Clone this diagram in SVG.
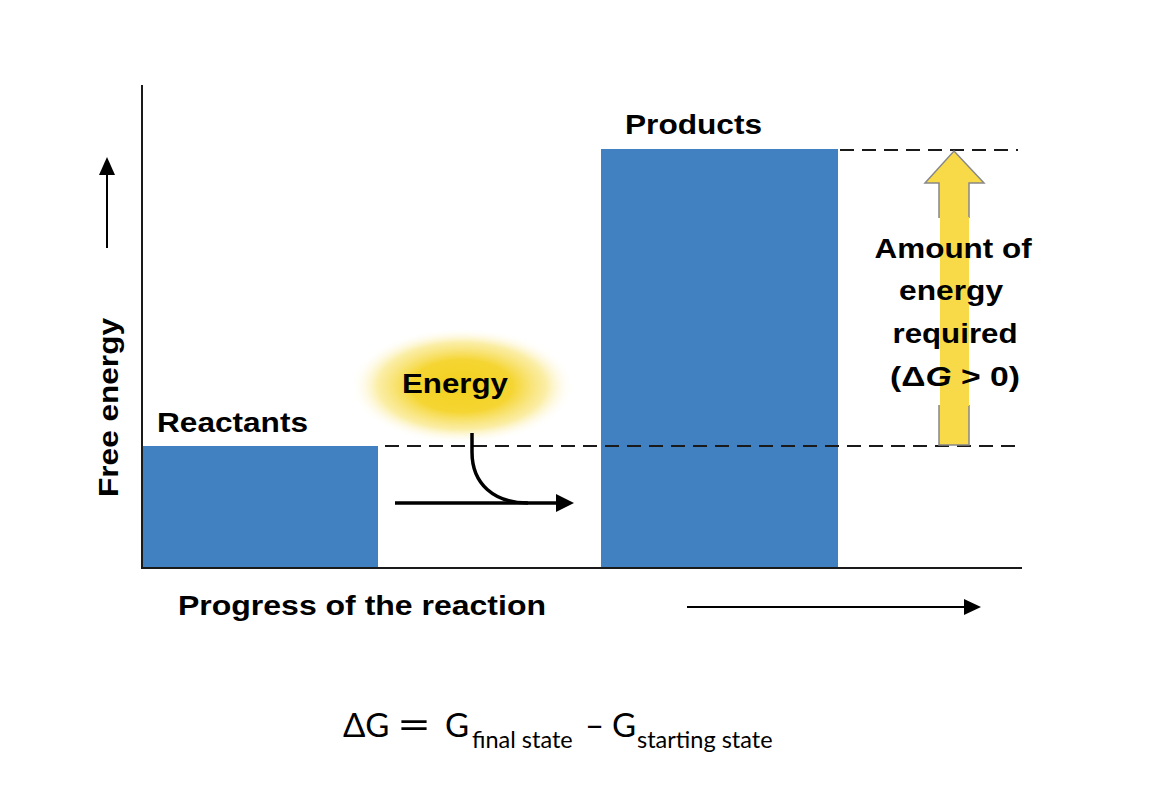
<svg xmlns="http://www.w3.org/2000/svg" width="1152" height="786" viewBox="0 0 1152 786">
<defs>
<radialGradient id="glow" cx="0.5" cy="0.5" r="0.5">
<stop offset="0" stop-color="#f3d01e"/>
<stop offset="0.45" stop-color="#f5d532"/>
<stop offset="0.75" stop-color="#f9e67f" stop-opacity="0.7"/>
<stop offset="1" stop-color="#ffffff" stop-opacity="0"/>
</radialGradient>
<style>
.lbl{font-family:"Liberation Sans",Arial,sans-serif;font-weight:bold;font-size:28px;fill:#000}
.eq{font-family:Lato,"Open Sans",sans-serif;fill:#000}
.bar{fill:#4281c1}
.axis{stroke:#1a1a1a;stroke-width:2;fill:none}
.dash{stroke:#1a1a1a;stroke-width:2;stroke-dasharray:14 8;fill:none}
</style>
</defs>
<rect width="1152" height="786" fill="#fff"/>

<g id="reactants">
<rect class="bar" x="143" y="446" width="235" height="122"/>
<text class="lbl" x="157" y="432" textLength="151" lengthAdjust="spacingAndGlyphs">Reactants</text>
</g>

<g id="products">
<rect class="bar" x="601" y="149" width="237" height="419"/>
<text class="lbl" x="625" y="134" textLength="137" lengthAdjust="spacingAndGlyphs">Products</text>
</g>

<g id="energy">
<ellipse cx="462" cy="386" rx="112" ry="58" fill="url(#glow)"/>
<text class="lbl" x="402" y="393" textLength="106" lengthAdjust="spacingAndGlyphs">Energy</text>
</g>

<g id="axes">
<line class="axis" x1="142" y1="85" x2="142" y2="569"/>
<line class="axis" x1="141" y1="568" x2="1022" y2="568"/>
<text class="lbl" transform="translate(118,497) rotate(-90)" textLength="179" lengthAdjust="spacingAndGlyphs">Free energy</text>
<text class="lbl" x="178" y="615" textLength="368" lengthAdjust="spacingAndGlyphs">Progress of the reaction</text>
</g>

<g id="connectors">
<line class="dash" x1="840" y1="150" x2="1018" y2="150"/>
<line class="dash" x1="385" y1="446" x2="1018" y2="446"/>
<path d="M107,248 V172" stroke="#000" stroke-width="2" fill="none"/>
<path d="M99,175 L107,157 L115,175 Z" fill="#000"/>
<path d="M687,607 H965" stroke="#000" stroke-width="2" fill="none"/>
<path d="M964,599 L981,607 L964,615 Z" fill="#000"/>
<path d="M395,503 H560" stroke="#000" stroke-width="3.5" fill="none"/>
<path d="M556,494 L574,503 L556,512 Z" fill="#000"/>
<path d="M472,433 V452 C472,484 494,503 528,503" stroke="#000" stroke-width="3.5" fill="none"/>
</g>

<g id="delta-g-arrow">
<polygon points="939,445 939,183 925,183 954,151 984,183 969,183 969,445" fill="#f8da49" stroke="#888" stroke-width="1.5"/>
<rect x="930" y="218" width="50" height="187" fill="#fff"/>
<rect x="940" y="217" width="29" height="189" fill="#f8da49"/>
<text class="lbl" text-anchor="middle">
<tspan x="957" y="258" textLength="157" lengthAdjust="spacingAndGlyphs">Amount of</tspan>
<tspan x="955" y="300" textLength="104" lengthAdjust="spacingAndGlyphs">energy</tspan>
<tspan x="955" y="343" textLength="125" lengthAdjust="spacingAndGlyphs">required</tspan>
</text>
<text class="lbl" x="890" y="386" textLength="130" lengthAdjust="spacingAndGlyphs">(Δ<tspan font-style="italic">G</tspan> &gt; 0)</text>
</g>

<g id="equation">
<text class="eq" x="343" y="737" font-size="33">ΔG</text>
<text class="eq" x="397" y="739" font-size="40" textLength="34" lengthAdjust="spacingAndGlyphs">=</text>
<text class="eq" x="445" y="737" font-size="33">G</text>
<text class="eq" x="472" y="748" font-size="23.5">final state</text>
<text class="eq" x="585" y="737" font-size="33">–</text>
<text class="eq" x="612" y="737" font-size="33">G</text>
<text class="eq" x="637" y="748" font-size="23.5">starting state</text>
</g>
</svg>
